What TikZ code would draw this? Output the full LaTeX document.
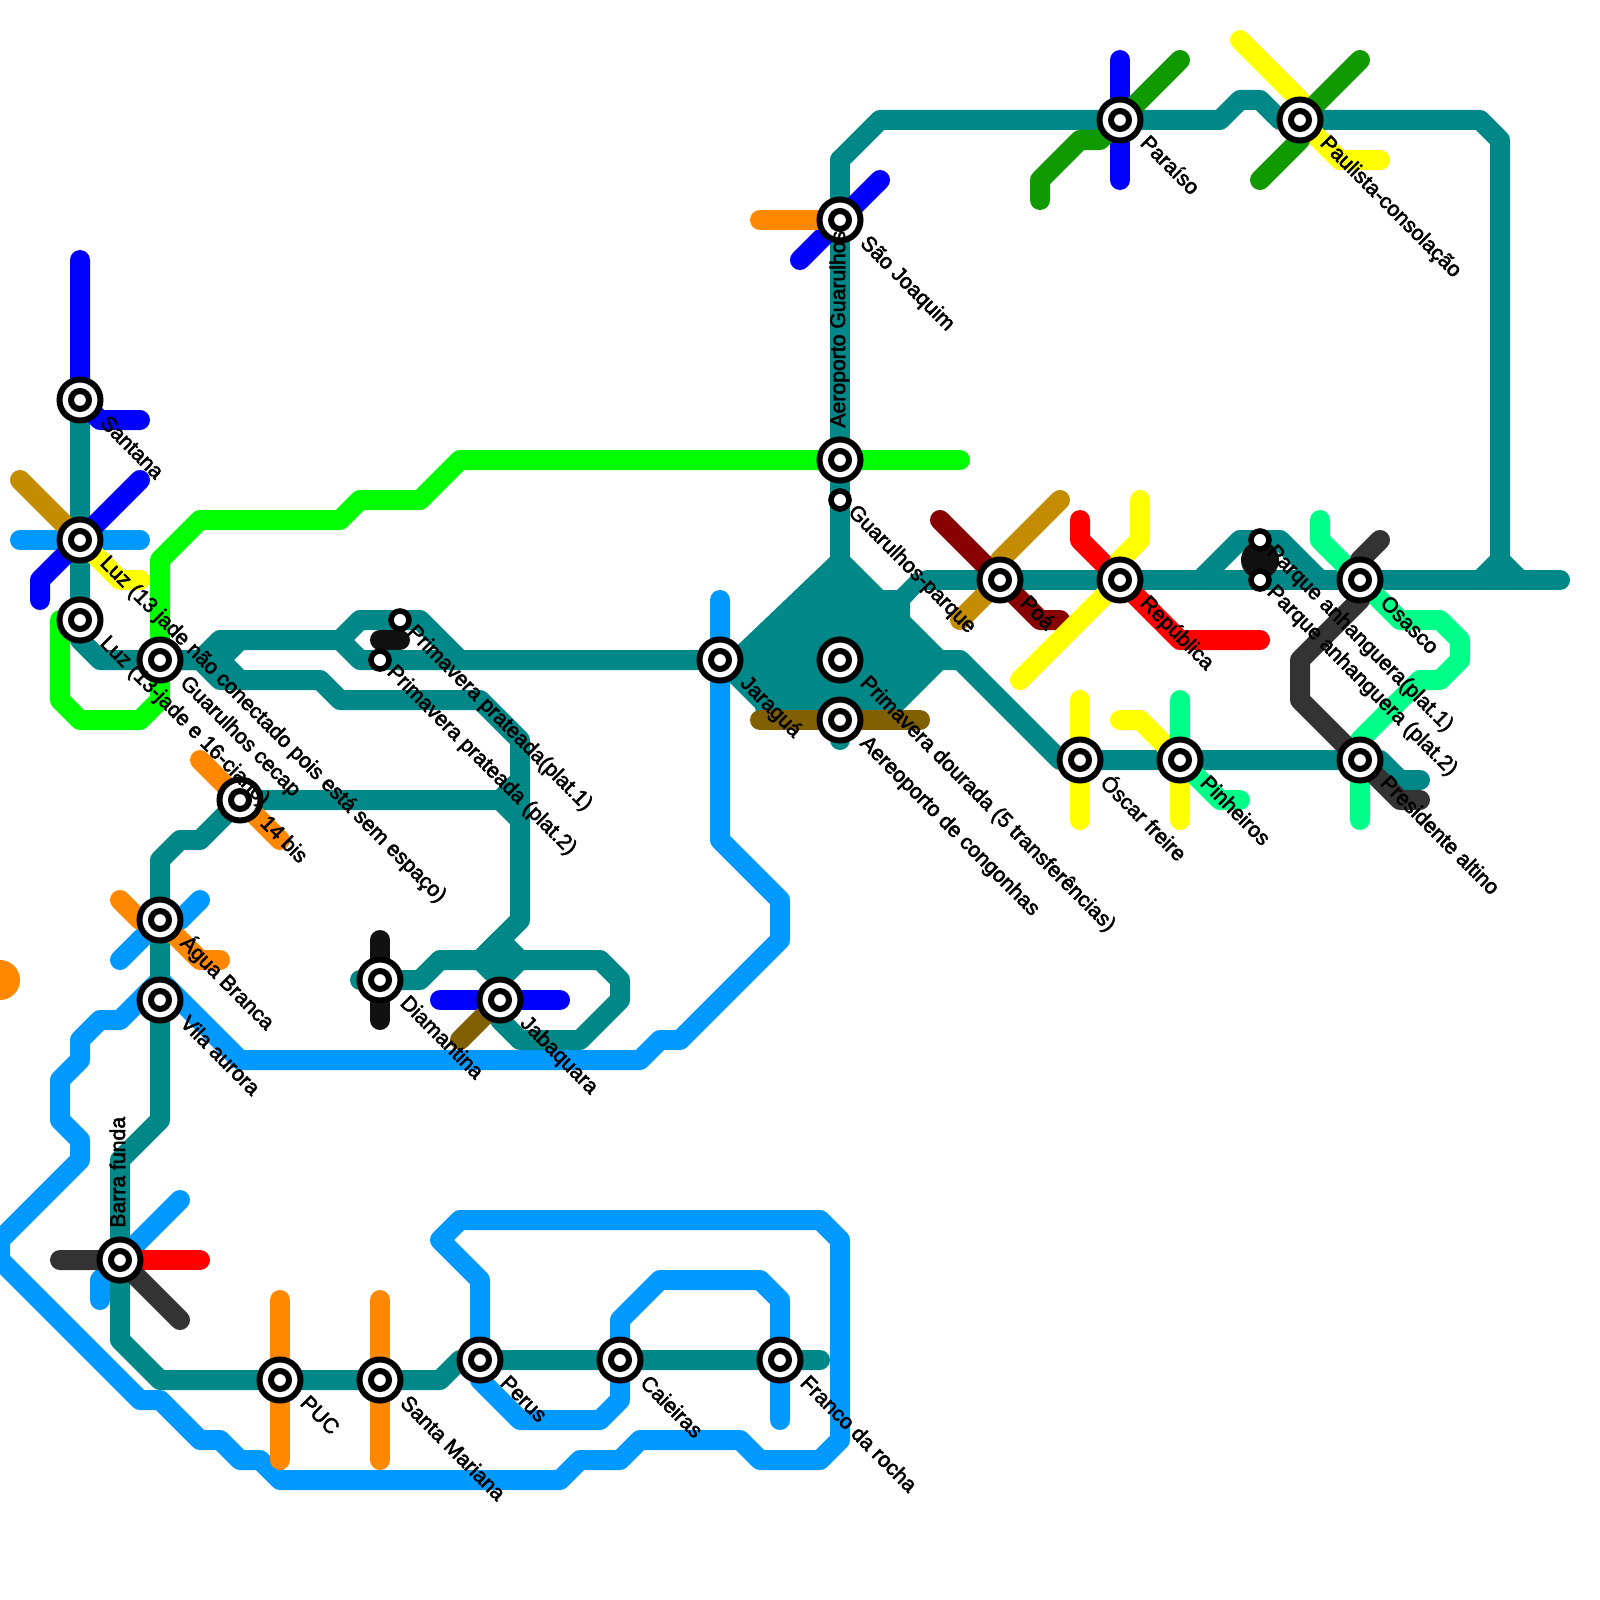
\documentclass[tikz,border=0pt]{standalone}
\usepackage{fontspec}
\usetikzlibrary{calc,backgrounds}
\newfontfamily\lblfont{Liberation Sans}[FakeBold=2.5]
\definecolor{cteal}{HTML}{008888}
\definecolor{cblue}{HTML}{0000FF}
\definecolor{csky}{HTML}{0099FF}
\definecolor{cgreen}{HTML}{00FF00}
\definecolor{cdgreen}{HTML}{119900}
\definecolor{cspring}{HTML}{00FF88}
\definecolor{cgold}{HTML}{C48C00}
\definecolor{cyellow}{HTML}{FFFF00}
\definecolor{corange}{HTML}{FF8800}
\definecolor{cred}{HTML}{FF0000}
\definecolor{cdred}{HTML}{880000}
\definecolor{cbrown}{HTML}{806000}
\definecolor{cgray}{HTML}{333333}
\definecolor{cblack}{HTML}{111111}
\tikzset{
  x=0.5pt,y=-0.5pt,
  metro/.style={line width=10pt,line cap=round,line join=round},
  bigst/.style={circle,draw=black,line width=3pt,fill=white,minimum size=20.5pt,inner sep=0pt,
    path picture={\draw[line width=3pt,fill=white] (path picture bounding box.center) circle (4.5pt);}},
  smallst/.style={circle,draw=black,line width=2.8pt,fill=white,minimum size=9pt,inner sep=0pt},
  lbl/.style={font=\lblfont\fontsize{10.6pt}{12pt}\selectfont,text=black,inner sep=0pt,anchor=base west,rotate=-45},
  lblup/.style={font=\lblfont\fontsize{10.6pt}{12pt}\selectfont,text=black,inner sep=0pt,anchor=base west,rotate=90},
}
\begin{document}
\begin{tikzpicture}
\useasboundingbox (0,0) rectangle (1600,1600);
% stations
\node[bigst] (santana) at (80,400) {};
\node[bigst] (luzA) at (80,540) {};
\node[bigst] (luzB) at (80,620) {};
\node[bigst] (cecap) at (160,660) {};
\node[bigst] (bis) at (240,800) {};
\node[bigst] (agua) at (160,920) {};
\node[bigst] (vila) at (160,1000) {};
\node[bigst] (barra) at (120,1260) {};
\node[bigst] (puc) at (280,1380) {};
\node[bigst] (mariana) at (380,1380) {};
\node[bigst] (perus) at (480,1360) {};
\node[bigst] (caieiras) at (620,1360) {};
\node[bigst] (franco) at (780,1360) {};
\node[bigst] (diam) at (380,980) {};
\node[bigst] (jaba) at (500,1000) {};
\node[bigst] (jara) at (720,660) {};
\node[bigst] (joaquim) at (840,220) {};
\node[bigst] (aerog) at (840,460) {};
\node[smallst] (gparque) at (840,500) {};
\node[bigst] (dourada) at (840,660) {};
\node[bigst] (cong) at (840,720) {};
\node[bigst] (poa) at (1000,580) {};
\node[bigst] (repu) at (1120,580) {};
\node[bigst] (paraiso) at (1120,120) {};
\node[bigst] (paulista) at (1300,120) {};
\node[bigst] (oscar) at (1080,760) {};
\node[bigst] (pinh) at (1180,760) {};
\node[bigst] (osasco) at (1360,580) {};
\node[bigst] (altino) at (1360,760) {};
\node[smallst] (anhA) at (1260,540) {};
\node[smallst] (anhB) at (1260,580) {};
\node[smallst] (prataA) at (400,620) {};
\node[smallst] (prataB) at (380,660) {};
% labels
\node[lbl] (lSantana) at ($(santana)+(19,24)$) {Santana};
\node[lbl] (lLuzA) at ($(luzA)+(19,24)$) {Luz (13 jade não conectado pois está sem espaço)};
\node[lbl] (lLuzB) at ($(luzB)+(19,24)$) {Luz (13-jade e 16-ciano)};
\node[lbl] (lCecap) at ($(cecap)+(19,24)$) {Guarulhos cecap};
\node[lbl] (lBis) at ($(bis)+(19,24)$) {14 bis};
\node[lbl] (lAgua) at ($(agua)+(19,24)$) {Água Branca};
\node[lbl] (lVila) at ($(vila)+(19,24)$) {Vila aurora};
\node[lblup] (lBarra) at ($(barra)+(5,-32)$) {Barra funda};
\node[lbl] (lPuc) at ($(puc)+(19,24)$) {PUC};
\node[lbl] (lMariana) at ($(mariana)+(19,24)$) {Santa Mariana};
\node[lbl] (lPerus) at ($(perus)+(19,24)$) {Perus};
\node[lbl] (lCaieiras) at ($(caieiras)+(19,24)$) {Caieiras};
\node[lbl] (lFranco) at ($(franco)+(19,24)$) {Franco da rocha};
\node[lbl] (lDiam) at ($(diam)+(19,24)$) {Diamantina};
\node[lbl] (lJaba) at ($(jaba)+(19,24)$) {Jabaquara};
\node[lbl] (lJara) at ($(jara)+(19,24)$) {Jaraguá};
\node[lbl] (lJoaquim) at ($(joaquim)+(19,24)$) {São Joaquim};
\node[lblup] (lAerog) at ($(aerog)+(5,-32)$) {Aeroporto Guarulhos};
\node[lbl] (lGparque) at ($(gparque)+(7,13)$) {Guarulhos-parque};
\node[lbl] (lDourada) at ($(dourada)+(19,24)$) {Primavera dourada (5 transferências)};
\node[lbl] (lCong) at ($(cong)+(19,24)$) {Aereoporto de congonhas};
\node[lbl] (lPoa) at ($(poa)+(19,24)$) {Poá};
\node[lbl] (lRepu) at ($(repu)+(19,24)$) {República};
\node[lbl] (lParaiso) at ($(paraiso)+(19,24)$) {Paraíso};
\node[lbl] (lPaulista) at ($(paulista)+(19,24)$) {Paulista-consolação};
\node[lbl] (lOscar) at ($(oscar)+(19,24)$) {Óscar freire};
\node[lbl] (lPinh) at ($(pinh)+(19,24)$) {Pinheiros};
\node[lbl] (lOsasco) at ($(osasco)+(19,24)$) {Osasco};
\node[lbl] (lAltino) at ($(altino)+(19,24)$) {Presidente altino};
\node[lbl] (lAnhA) at ($(anhA)+(6,13)$) {Parque anhanguera(plat.1)};
\node[lbl] (lAnhB) at ($(anhB)+(6,13)$) {Parque anhanguera (plat.2)};
\node[lbl] (lPrataA) at ($(prataA)+(6,13)$) {Primavera prateada(plat.1)};
\node[lbl] (lPrataB) at ($(prataB)+(6,13)$) {Primavera prateada (plat.2)};
\begin{scope}[on background layer]
% sky blue, below the teal
\begin{scope}[metro]
\draw[csky] (720,600) -- (jara.center) -- (720,840) -- (780,900) -- (780,940) -- (680,1040) -- (660,1040) -- (640,1060) -- (240,1060) -- (160,980) -- (120,1020) -- (100,1020) -- (80,1040) -- (80,1060) -- (60,1080) -- (60,1120) -- (80,1140) -- (80,1160) -- (0,1240) -- (0,1260) -- (140,1400) -- (160,1400) -- (200,1440) -- (220,1440) -- (240,1460) -- (260,1460) -- (280,1480) -- (560,1480) -- (580,1460) -- (620,1460) -- (640,1440) -- (740,1440) -- (760,1460) -- (820,1460) -- (840,1440) -- (840,1240) -- (820,1220) -- (460,1220) -- (440,1240) -- (480,1280) -- (perus.center) -- (480,1380) -- (520,1420) -- (600,1420) -- (620,1400) -- (caieiras.center) -- (620,1320) -- (660,1280) -- (760,1280) -- (780,1300) -- (franco.center) -- (780,1420);
\draw[csky] (20,540) -- (luzA.center) -- (140,540);
\draw[csky] (200,900) -- (180,920) -- (agua.center) -- (120,960);
\draw[csky] (180,1200) -- (barra.center) -- (100,1280) -- (100,1300);
\end{scope}
% teal
\begin{scope}[metro,draw=cteal]
\draw (santana.center) -- (luzA.center) -- (luzB.center) -- (80,640) -- (100,660) -- (cecap.center) -- (200,660) -- (220,640) -- (340,640) -- (360,660) -- (prataB.center) -- (460,660) -- (jara.center);
\draw (340,640) -- (360,620) -- (prataA.center) -- (420,620) -- (460,660);
\draw (180,660) -- (220,660) -- (240,640);
\draw (220,660) -- (240,680);
\draw (200,660) -- (220,680) -- (320,680) -- (340,700) -- (480,700) -- (520,740) -- (520,920) -- (480,960) -- (440,960) -- (420,980) -- (diam.center) -- (360,980);
\draw (bis.center) -- (500,800) -- (520,820);
\draw (500,800) -- (520,780);
\draw (bis.center) -- (200,840) -- (180,840) -- (160,860) -- (agua.center) -- (vila.center) -- (160,1120) -- (120,1160) -- (barra.center) -- (120,1340) -- (160,1380) -- (puc.center) -- (mariana.center) -- (440,1380) -- (460,1360) -- (perus.center) -- (caieiras.center) -- (franco.center) -- (820,1360);
\draw (480,960) -- (600,960) -- (620,980) -- (620,1000) -- (580,1040) -- (520,1040) -- (500,1020) -- (jaba.center) -- (500,980) -- (480,960);
\draw (500,980) -- (520,960) -- (500,940) -- (480,960);
\draw (840,160) -- (880,120) -- (paraiso.center) -- (1220,120) -- (1240,100) -- (1260,100) -- (1280,120) -- (paulista.center) -- (1480,120) -- (1500,140) -- (1500,560) -- (1480,580);
\draw (1500,560) -- (1520,580);
\draw (840,160) -- (joaquim.center) -- (aerog.center) -- (gparque.center) -- (840,560);
\draw (927,580) -- (poa.center) -- (repu.center) -- (anhB.center) -- (osasco.center) -- (1560,580);
\draw (1200,580) -- (1240,540) -- (anhA.center) -- (1280,540) -- (1320,580);
\draw (940,660) -- (960,660) -- (1060,760) -- (oscar.center) -- (pinh.center) -- (altino.center) -- (1380,760) -- (1400,780) -- (1420,780);
\draw (cong.center) -- (840,740);
\fill[cteal] (830,557) -- (850,557) -- (883,590) -- (897,590) -- (917,570) -- (922,590) -- (910,603) -- (910,617) -- (943,650) -- (943,670) -- (903,710) -- (903,725) -- (760,725) -- (755,708) -- (730,683) -- (720,660) -- (740,643) -- cycle;
\end{scope}
% other lines
\begin{scope}[metro]
\draw[cblue] (80,260) -- (santana.center) -- (100,420) -- (140,420);
\draw[cblue] (140,480) -- (luzA.center) -- (40,580) -- (40,600);
\draw[cblue] (1120,60) -- (paraiso.center) -- (1120,180);
\draw[cblue] (880,180) -- (joaquim.center) -- (800,260);
\draw[cblue] (440,1000) -- (jaba.center) -- (560,1000);
\draw[cgold] (20,480) -- (luzA.center);
\draw[cgold] (1060,500) -- (1000,560) -- (poa.center) -- (960,620);
\draw[cgreen] (960,460) -- (aerog.center) -- (460,460) -- (420,500) -- (360,500) -- (340,520) -- (200,520) -- (160,560) -- (cecap.center) -- (160,700) -- (140,720) -- (80,720) -- (60,700) -- (60,620);
\draw[corange] (200,760) -- (bis.center) -- (280,840);
\draw[corange] (120,900) -- (140,920) -- (agua.center) -- (200,960) -- (220,960);
\draw[corange] (280,1300) -- (puc.center) -- (280,1460);
\draw[corange] (380,1300) -- (mariana.center) -- (380,1460);
\draw[corange] (760,220) -- (joaquim.center);
\draw[cred] (barra.center) -- (200,1260);
\draw[cred] (1080,520) -- (1080,540) -- (repu.center) -- (1180,640) -- (1260,640);
\draw[cdred] (940,520) -- (poa.center) -- (1040,620) -- (1060,620);
\draw[cyellow] (luzA.center) -- (120,580) -- (140,580);
\draw[cyellow] (1140,500) -- (1140,540) -- (1120,560) -- (repu.center) -- (1020,680);
\draw[cyellow] (1240,40) -- (1300,100) -- (paulista.center) -- (1340,160) -- (1380,160);
\draw[cyellow] (1080,700) -- (oscar.center) -- (1080,820);
\draw[cyellow] (1120,720) -- (1140,720) -- (pinh.center) -- (1180,820);
\draw[cdgreen] (1180,60) -- (paraiso.center) -- (1100,140) -- (1080,140) -- (1040,180) -- (1040,200);
\draw[cdgreen] (1360,60) -- (paulista.center) -- (1300,140) -- (1260,180);
\draw[cbrown] (760,720) -- (cong.center) -- (920,720);
\draw[cbrown] (460,1040) -- (jaba.center);
\draw[cspring] (1180,700) -- (pinh.center) -- (1220,800) -- (1240,800);
\draw[cspring] (1320,520) -- (1320,540) -- (osasco.center) -- (1400,620) -- (1440,620) -- (1460,640) -- (1460,660) -- (1440,680) -- (1420,680) -- (1360,740) -- (altino.center) -- (1360,820);
\draw[cgray] (1380,540) -- (1360,560) -- (osasco.center) -- (1360,600) -- (1300,660) -- (1300,700) -- (altino.center) -- (1400,800) -- (1420,800);
\draw[cgray] (60,1260) -- (barra.center) -- (180,1320);
\draw[cblack] (380,940) -- (diam.center) -- (380,1020);
\draw[cblack] (380,640) -- (400,640);
\fill[cblack] (1260,560) circle (9.5pt);
\fill[corange] (0,980) circle (10pt);
\end{scope}
\end{scope}
\end{tikzpicture}
\end{document}
